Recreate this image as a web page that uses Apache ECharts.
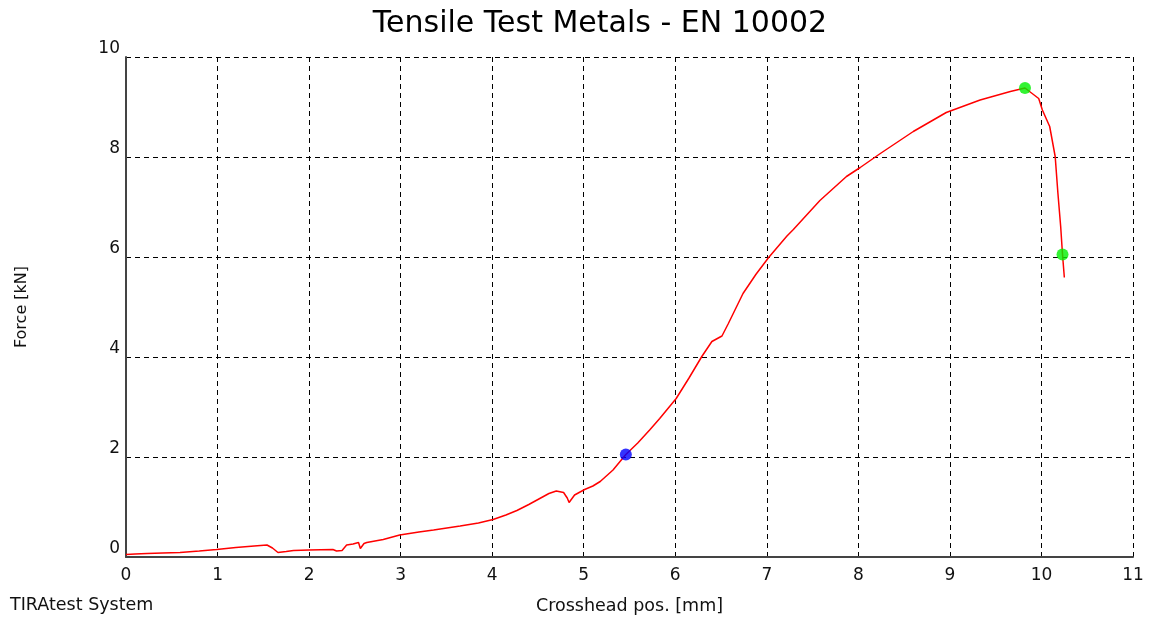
<!DOCTYPE html>
<html>
<head>
<meta charset="utf-8">
<script src="https://cdn.jsdelivr.net/npm/echarts@6/dist/echarts.min.js"></script>
<style>
html,body{margin:0;padding:0;background:#fff;}
#chart{width:1149px;height:621px;}
</style>
</head>
<body>
<div id="chart"></div>
<script>
const titleText = 'Tensile Test Metals - EN 10002';
const xAxisName = 'Crosshead pos. [mm]';
const yAxisName = 'Force [kN]';
const systemName = 'TIRAtest System';

const xTicks = [0,1,2,3,4,5,6,7,8,9,10,11];
const yTicks = [0,2,4,6,8,10];

const posMm = [0.00,0.10,0.23,0.40,0.59,0.80,0.99,1.20,1.40,1.54,1.60,1.66,1.75,1.83,2.00,2.26,2.30,2.32,2.36,2.41,2.48,2.54,2.56,2.60,2.63,2.81,2.99,3.20,3.36,3.65,3.85,4.01,4.15,4.27,4.40,4.52,4.62,4.70,4.78,4.82,4.84,4.90,5.01,5.10,5.18,5.32,5.46,5.59,5.72,5.83,6.01,6.15,6.29,6.40,6.51,6.58,6.74,6.88,7.02,7.22,7.29,7.58,7.87,8.02,8.24,8.60,8.96,9.33,9.66,9.82,9.97,10.01,10.09,10.15,10.18,10.21,10.23,10.25];
const forceKN = [0.05,0.06,0.07,0.08,0.09,0.12,0.15,0.19,0.22,0.24,0.18,0.09,0.11,0.13,0.14,0.15,0.12,0.09,0.13,0.24,0.26,0.29,0.17,0.27,0.29,0.35,0.44,0.50,0.54,0.62,0.68,0.75,0.84,0.93,1.05,1.17,1.27,1.32,1.29,1.18,1.09,1.24,1.35,1.42,1.51,1.74,2.05,2.28,2.54,2.77,3.17,3.58,4.01,4.31,4.42,4.67,5.27,5.65,5.99,6.42,6.55,7.13,7.61,7.79,8.07,8.51,8.89,9.14,9.31,9.38,9.17,8.94,8.61,8.01,7.27,6.61,6.05,5.59];

const blueMarkX = [5.46];
const blueMarkY = [2.05];
const greenMarkX = [9.82, 10.23];
const greenMarkY = [9.38, 6.05];

const curve = posMm.map((x, i) => [x, forceKN[i]]);
const blue = blueMarkX.map((x, i) => [x, blueMarkY[i]]);
const green = greenMarkX.map((x, i) => [x, greenMarkY[i]]);

const FONT = 'DejaVu Sans';
const chart = echarts.init(document.getElementById('chart'), null, {renderer: 'canvas'});
chart.setOption({
  animation: false,
  backgroundColor: '#ffffff',
  graphic: [{
    type: 'text', x: 600, y: 24,
    style: {text: titleText, font: '30px "DejaVu Sans"', fill: '#000', align: 'center', verticalAlign: 'middle'}
  }, {
    type: 'text', x: 10, y: 605,
    style: {text: systemName, font: '17.5px "DejaVu Sans"', fill: '#111', align: 'left', verticalAlign: 'middle'}
  }],
  grid: {left: 126, right: 16, top: 57, bottom: 64},
  xAxis: {
    type: 'value', min: 0, max: 11, interval: 1,
    name: xAxisName, nameLocation: 'middle', nameGap: 40,
    nameTextStyle: {fontFamily: FONT, fontSize: 17.5, color: '#111'},
    axisLine: {show: true, lineStyle: {color: '#444', width: 2}},
    axisTick: {show: false},
    axisLabel: {fontFamily: FONT, fontSize: 17, color: '#111', margin: 10,
      formatter: v => xTicks.includes(v) ? String(v) : ''},
    splitLine: {show: true, lineStyle: {color: '#000', type: [5, 4], width: 1}}
  },
  yAxis: {
    type: 'value', min: 0, max: 10, interval: 2,
    name: yAxisName, nameLocation: 'middle', nameGap: 96, nameRotate: 90,
    nameTextStyle: {fontFamily: FONT, fontSize: 16, color: '#111'},
    axisLine: {show: true, lineStyle: {color: '#444', width: 2}},
    axisTick: {show: false},
    axisLabel: {fontFamily: FONT, fontSize: 17, color: '#111', margin: 6, verticalAlign: 'bottom',
      formatter: v => yTicks.includes(v) ? String(v) : ''},
    splitLine: {show: true, lineStyle: {color: '#000', type: [5, 4], width: 1}}
  },
  series: [
    {type: 'line', data: curve, showSymbol: false, symbol: 'none',
     lineStyle: {color: '#ff0000', width: 1.5}, z: 3},
    {type: 'scatter', data: blue, symbol: 'circle', symbolSize: 12,
     itemStyle: {color: '#0000ff'}, z: 4},
    {type: 'scatter', data: green, symbol: 'circle', symbolSize: 12,
     itemStyle: {color: '#00f000'}, z: 4}
  ]
});
</script>
</body>
</html>
